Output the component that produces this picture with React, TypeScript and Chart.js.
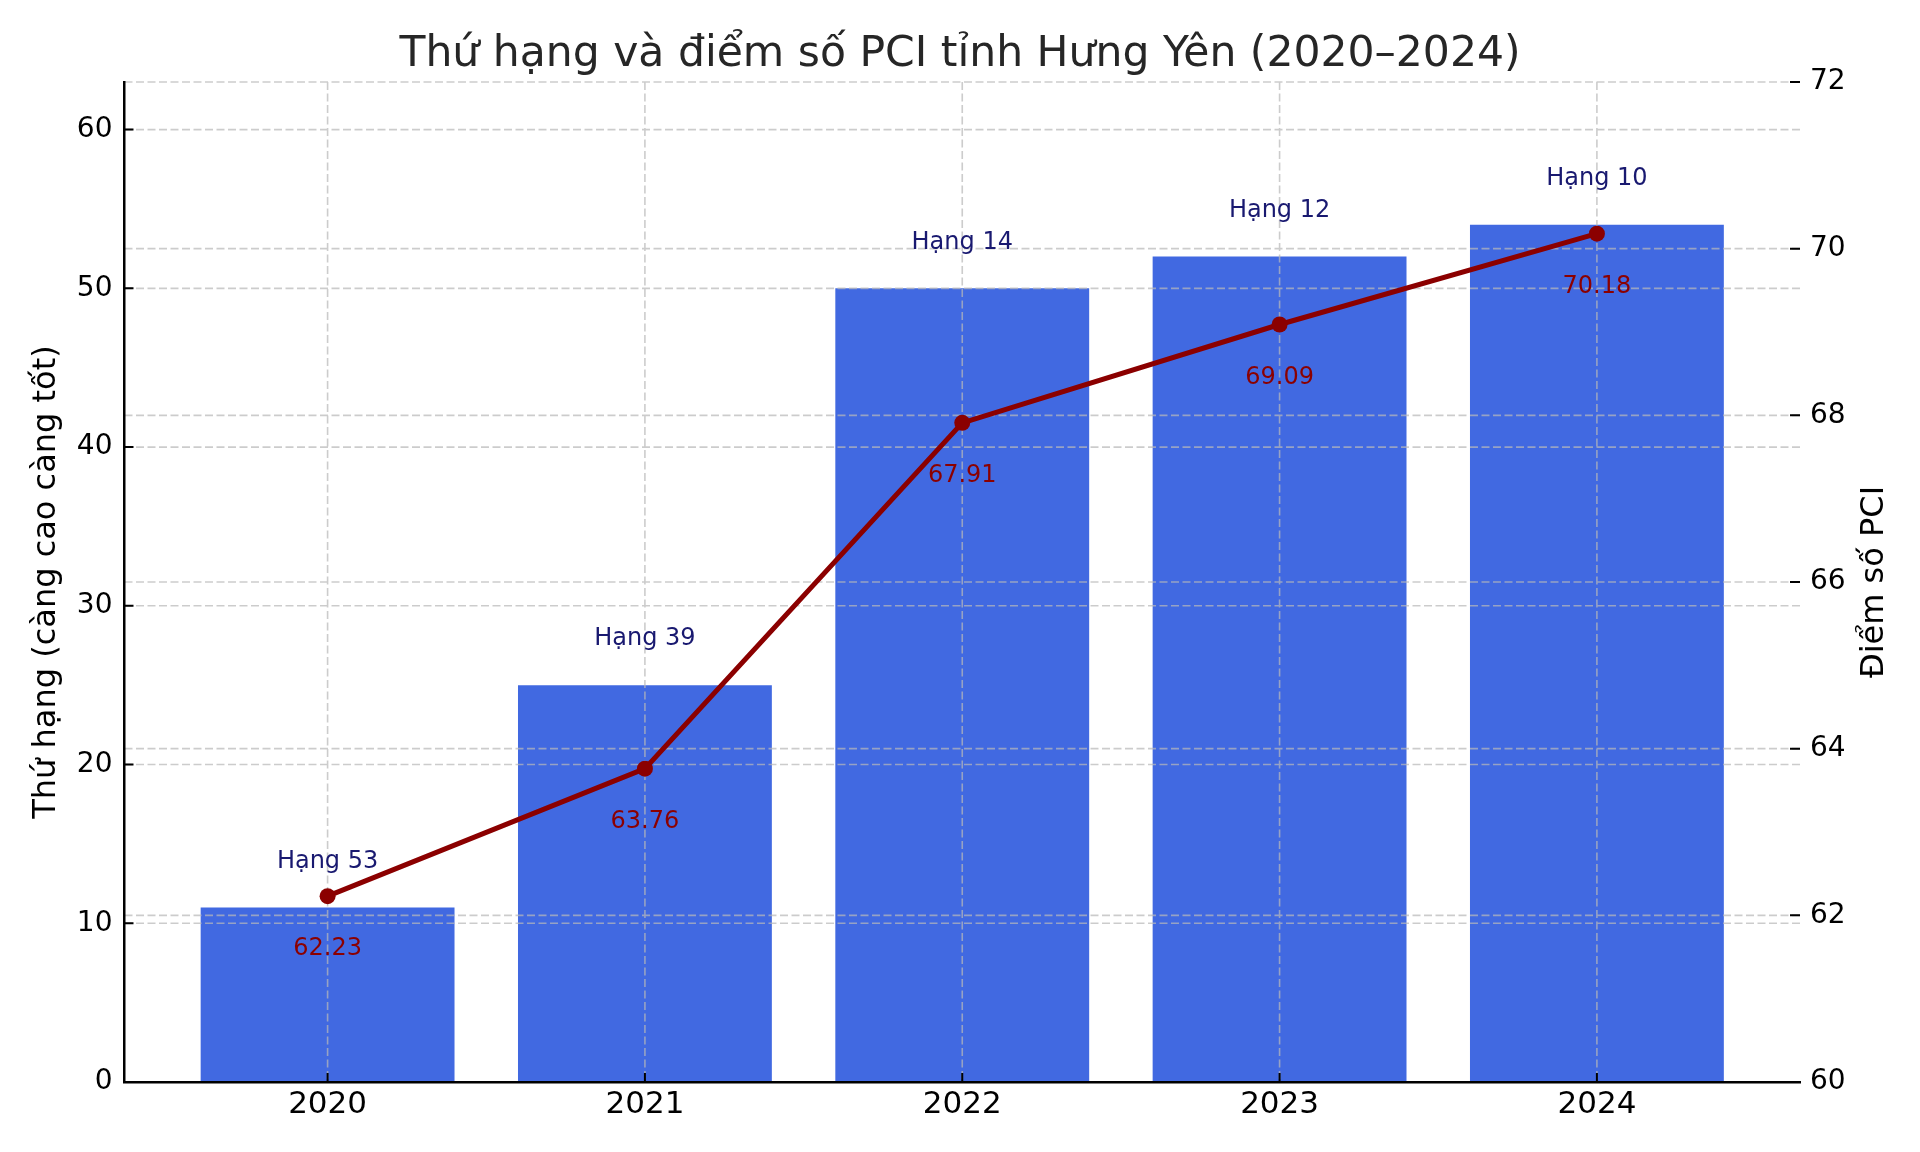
import React, { useEffect, useRef } from 'react';
import { Chart, registerables } from 'chart.js';

Chart.register(...registerables);

const years = ['2020', '2021', '2022', '2023', '2024'];
const ranks = [53, 39, 14, 12, 10];
// bar height shown on the left axis (higher = better rank)
const rankBars = [11, 25, 50, 52, 54];
const pciScores = [62.23, 63.76, 67.91, 69.09, 70.18];
const rankTicks = [0, 10, 20, 30, 40, 50, 60];
const scoreTicks = [60, 62, 64, 66, 68, 70, 72];

const FONT = "'DejaVu Sans', sans-serif";
const GRID_COLOR = 'rgba(185, 185, 185, 0.72)';

const overlayPlugin = {
  id: 'overlay',
  afterDatasetDraw(chart: any, args: any) {
    // grid sits above the bars but under the line
    if (args.meta.type !== 'bar') return;
    const { ctx, chartArea: a, scales } = chart;
    ctx.save();
    ctx.strokeStyle = GRID_COLOR;
    ctx.lineWidth = 1.6;
    ctx.setLineDash([8, 3.5]);
    ctx.beginPath();
    scales.x.ticks.forEach((t: any) => {
      const px = scales.x.getPixelForValue(t.value);
      ctx.moveTo(px, a.top);
      ctx.lineTo(px, a.bottom);
    });
    [scales.y, scales.y1].forEach((s: any) => {
      s.ticks.forEach((t: any) => {
        const py = s.getPixelForValue(t.value);
        ctx.moveTo(a.left, py);
        ctx.lineTo(a.right, py);
      });
    });
    ctx.stroke();
    ctx.restore();
  },
  afterDraw(chart: any) {
    const { ctx, chartArea: a, scales } = chart;
    const { x, y, y1 } = scales;
    ctx.save();

    // inward tick marks
    ctx.strokeStyle = '#000';
    ctx.lineWidth = 2;
    ctx.beginPath();
    x.ticks.forEach((t: any) => {
      const px = x.getPixelForValue(t.value);
      ctx.moveTo(px, a.bottom);
      ctx.lineTo(px, a.bottom - 9);
    });
    y.ticks.forEach((t: any) => {
      const py = y.getPixelForValue(t.value);
      ctx.moveTo(a.left, py);
      ctx.lineTo(a.left + 9, py);
    });
    y1.ticks.forEach((t: any) => {
      const py = y1.getPixelForValue(t.value);
      ctx.moveTo(a.right - 10, py);
      ctx.lineTo(a.right, py);
    });
    ctx.stroke();

    // value labels
    ctx.textAlign = 'center';
    ctx.textBaseline = 'alphabetic';
    ctx.font = `24px ${FONT}`;
    ranks.forEach((r, i) => {
      const px = x.getPixelForValue(i);
      ctx.fillStyle = '#191970';
      ctx.fillText(`Hạng ${r}`, px, y.getPixelForValue(rankBars[i] + 2.5));
      ctx.fillStyle = '#8B0000';
      ctx.fillText(pciScores[i].toFixed(2), px, y1.getPixelForValue(pciScores[i] - 0.71));
    });

    // title
    ctx.fillStyle = '#262626';
    ctx.font = `42.5px ${FONT}`;
    ctx.fillText('Thứ hạng và điểm số PCI tỉnh Hưng Yên (2020–2024)', 960, 66);

    // axis titles (both read bottom to top)
    ctx.fillStyle = '#000';
    ctx.font = `32px ${FONT}`;
    const midY = (a.top + a.bottom) / 2;
    ctx.save();
    ctx.translate(55, midY);
    ctx.rotate(-Math.PI / 2);
    ctx.fillText('Thứ hạng (càng cao càng tốt)', 0, 0);
    ctx.restore();
    ctx.save();
    ctx.translate(1883, midY);
    ctx.rotate(-Math.PI / 2);
    ctx.fillText('Điểm số PCI', 0, 0);
    ctx.restore();

    ctx.restore();
  },
};

export default function App() {
  const canvasRef = useRef<HTMLCanvasElement>(null);
  const chartRef = useRef<Chart | null>(null);

  useEffect(() => {
    if (!canvasRef.current) return;
    if (chartRef.current) chartRef.current.destroy();

    const tickFont = { family: FONT, size: 28 };

    chartRef.current = new Chart(canvasRef.current, {
      type: 'bar',
      data: {
        datasets: [
          {
            type: 'bar',
            label: 'Thứ hạng',
            data: rankBars.map((v, i) => ({ x: i, y: v })),
            backgroundColor: '#4169E1',
            borderWidth: 0,
            barPercentage: 0.8,
            categoryPercentage: 1,
            yAxisID: 'y',
            order: 2,
          },
          {
            type: 'line',
            label: 'Điểm số PCI',
            data: pciScores.map((v, i) => ({ x: i, y: v })),
            borderColor: '#8B0000',
            backgroundColor: '#8B0000',
            borderWidth: 5,
            pointRadius: 8,
            pointBorderWidth: 0,
            pointBackgroundColor: '#8B0000',
            tension: 0,
            yAxisID: 'y1',
            order: 1,
          },
        ] as any,
      },
      options: {
        responsive: true,
        maintainAspectRatio: false,
        animation: false,
        layout: { padding: { top: 82, left: 0, right: 0, bottom: 0 } },
        plugins: {
          legend: { display: false },
          title: { display: false },
          tooltip: { enabled: false },
        },
        scales: {
          x: {
            type: 'linear',
            position: 'bottom',
            offset: false,
            min: -0.64,
            max: 4.64,
            afterBuildTicks: (s: any) => {
              s.ticks = years.map((_, i) => ({ value: i }));
            },
            afterFit: (s: any) => {
              s.height = 70;
            },
            grid: { display: false, drawTicks: false, offset: false },
            border: { display: true, color: '#000', width: 2.5, z: 1 },
            ticks: {
              font: { family: FONT, size: 31 },
              color: '#000',
              padding: 4,
              autoSkip: false,
              maxRotation: 0,
              callback: (v: any) => years[v] ?? '',
            },
          },
          y: {
            type: 'linear',
            position: 'left',
            min: 0,
            max: 63,
            afterBuildTicks: (s: any) => {
              s.ticks = rankTicks.map((v) => ({ value: v }));
            },
            afterFit: (s: any) => {
              s.width = 124.5;
            },
            grid: { display: false, drawTicks: false },
            border: { display: true, color: '#000', width: 2.5, z: 1 },
            ticks: { font: tickFont, color: '#000', padding: 12 },
          },
          y1: {
            type: 'linear',
            position: 'right',
            min: 60,
            max: 72,
            afterBuildTicks: (s: any) => {
              s.ticks = scoreTicks.map((v) => ({ value: v }));
            },
            afterFit: (s: any) => {
              s.width = 120;
            },
            grid: { display: false, drawTicks: false },
            border: { display: false },
            ticks: { font: tickFont, color: '#000', padding: 10 },
          },
        },
      } as any,
      plugins: [overlayPlugin],
    });

    return () => {
      if (chartRef.current) {
        chartRef.current.destroy();
        chartRef.current = null;
      }
    };
  }, []);

  return (
    <div
      style={{
        position: 'fixed',
        left: 0,
        top: 0,
        width: 1920,
        height: 1152,
        background: '#fff',
      }}
    >
      <canvas ref={canvasRef}></canvas>
    </div>
  );
}
